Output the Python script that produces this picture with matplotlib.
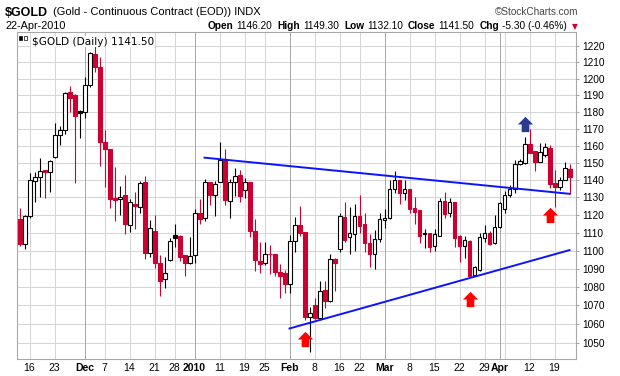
import numpy as np
import matplotlib
matplotlib.use('Agg')
import matplotlib.pyplot as plt
from matplotlib.patches import Rectangle
from matplotlib.path import Path
from matplotlib.ticker import FixedLocator, NullLocator

# ── data: $GOLD daily candles, 12-Nov-2009 .. 22-Apr-2010 ──
opens = [1117.9, 1103.6, 1119.2, 1139.4, 1141.7, 1145.9, 1144.4, 1153.5, 1166.2, 1169.4,
         1191.7, 1190.1, 1180.6, 1179.7, 1196.4, 1215.0, 1207.2, 1162.1, 1158.3, 1129.5,
         1128.9, 1131.4, 1114.1, 1126.5, 1124.8, 1138.6, 1098.8, 1111.0, 1093.3, 1084.1,
         1095.0, 1108.7, 1108.1, 1097.5, 1093.3, 1097.5, 1120.9, 1118.1, 1138.6, 1131.7,
         1139.0, 1151.9, 1128.0, 1138.6, 1142.8, 1134.3, 1138.6, 1111.2, 1094.1, 1093.1,
         1098.4, 1098.0, 1087.9, 1087.7, 1081.8, 1105.5, 1114.3, 1110.6, 1063.8, 1070.2,
         1063.2, 1078.2, 1072.4, 1095.2, 1100.7, 1119.0, 1107.4, 1109.1, 1119.4, 1114.9,
         1104.0, 1097.9, 1106.3, 1117.1, 1118.6, 1134.6, 1140.0, 1132.3, 1134.6, 1124.1,
         1122.8, 1109.1, 1109.7, 1102.7, 1108.3, 1128.0, 1120.9, 1127.2, 1108.2, 1102.5,
         1105.6, 1086.6, 1089.3, 1106.8, 1110.0, 1104.0, 1113.0, 1123.7, 1131.7, 1134.6,
         1149.2, 1150.0, 1161.1, 1157.0, 1150.5, 1154.5, 1158.9, 1138.1, 1136.2, 1140.3,
         1146.2]
highs = [1124.0, 1120.0, 1144.2, 1144.5, 1152.6, 1146.0, 1151.7, 1173.7, 1171.5, 1192.0,
         1195.4, 1190.5, 1181.0, 1201.2, 1216.4, 1222.0, 1213.0, 1169.2, 1158.3, 1147.4,
         1136.7, 1142.8, 1129.0, 1133.0, 1139.4, 1142.2, 1117.1, 1119.9, 1097.5, 1096.2,
         1106.8, 1114.9, 1108.5, 1097.5, 1107.6, 1123.7, 1129.1, 1140.5, 1138.6, 1139.4,
         1162.1, 1158.3, 1140.9, 1147.0, 1145.7, 1141.3, 1138.6, 1117.7, 1104.6, 1104.6,
         1103.1, 1098.2, 1092.4, 1089.5, 1108.7, 1119.0, 1125.2, 1110.6, 1068.8, 1074.1,
         1083.2, 1083.2, 1098.1, 1096.0, 1120.9, 1127.6, 1124.3, 1126.3, 1131.4, 1120.9,
         1109.3, 1111.5, 1120.9, 1123.7, 1140.0, 1145.3, 1140.0, 1140.0, 1134.6, 1130.4,
         1123.0, 1111.9, 1110.0, 1112.0, 1129.5, 1133.3, 1129.5, 1127.2, 1108.5, 1108.2,
         1106.0, 1091.5, 1109.7, 1114.4, 1111.0, 1120.0, 1127.6, 1133.8, 1137.0, 1151.5,
         1152.0, 1165.1, 1169.6, 1157.0, 1161.5, 1161.5, 1160.2, 1145.7, 1141.5, 1150.5,
         1149.3]
lows = [1102.7, 1101.0, 1118.5, 1127.6, 1130.4, 1129.9, 1133.0, 1153.0, 1160.5, 1166.8,
        1180.0, 1138.4, 1164.4, 1176.5, 1195.0, 1204.3, 1148.3, 1136.2, 1124.0, 1116.7,
        1120.0, 1109.5, 1110.4, 1111.9, 1121.4, 1095.6, 1096.5, 1090.5, 1075.1, 1079.6,
        1094.0, 1101.8, 1094.5, 1086.1, 1092.8, 1093.3, 1115.2, 1116.7, 1125.7, 1119.6,
        1139.0, 1125.7, 1118.4, 1130.8, 1127.2, 1129.5, 1107.4, 1088.7, 1087.4, 1092.3,
        1086.8, 1086.1, 1074.0, 1076.4, 1076.8, 1099.0, 1108.0, 1062.1, 1044.8, 1062.5,
        1062.3, 1068.7, 1072.0, 1077.6, 1099.0, 1105.0, 1098.4, 1099.9, 1109.7, 1099.4,
        1090.7, 1089.6, 1105.0, 1112.4, 1117.5, 1132.3, 1126.3, 1128.5, 1121.3, 1115.2,
        1104.0, 1101.2, 1099.0, 1100.0, 1108.0, 1118.6, 1119.0, 1101.8, 1093.5, 1096.0,
        1085.6, 1085.9, 1088.5, 1105.0, 1103.0, 1103.5, 1112.5, 1121.3, 1130.4, 1132.7,
        1148.5, 1149.5, 1155.5, 1145.4, 1150.3, 1153.5, 1135.6, 1124.4, 1134.3, 1140.0,
        1132.1]
closes = [1103.6, 1119.4, 1139.8, 1142.0, 1145.5, 1144.4, 1150.9, 1166.2, 1169.0, 1191.4,
          1188.2, 1177.6, 1179.5, 1196.4, 1215.5, 1207.2, 1162.1, 1158.3, 1129.3, 1128.3,
          1130.0, 1115.2, 1127.2, 1125.2, 1138.1, 1098.8, 1112.5, 1093.3, 1083.4, 1087.4,
          1105.3, 1106.8, 1096.5, 1093.3, 1096.9, 1120.9, 1117.7, 1138.6, 1131.7, 1137.5,
          1151.9, 1128.5, 1138.6, 1142.4, 1131.0, 1138.6, 1111.2, 1094.7, 1092.5, 1098.4,
          1098.0, 1087.9, 1086.1, 1081.8, 1105.5, 1114.3, 1109.6, 1063.8, 1065.7, 1063.2,
          1077.6, 1072.4, 1095.6, 1093.1, 1119.4, 1105.9, 1109.7, 1119.4, 1114.0, 1104.0,
          1097.9, 1106.3, 1117.5, 1118.6, 1134.6, 1140.3, 1132.3, 1134.6, 1123.4, 1121.5,
          1108.3, 1109.7, 1102.1, 1109.1, 1128.0, 1120.5, 1127.2, 1106.8, 1102.5, 1105.8,
          1086.2, 1090.8, 1107.4, 1110.0, 1103.6, 1113.3, 1126.7, 1131.7, 1134.6, 1149.6,
          1150.9, 1161.1, 1156.0, 1150.5, 1156.4, 1159.2, 1137.5, 1135.8, 1140.3, 1146.8,
          1141.5]

# x-axis: candle index of each labelled week / month line
tick_idx = [2, 7, 13, 17, 22, 27, 31, 35, 40, 45, 49, 54, 59, 64, 68, 73, 78, 83, 88, 93, 96, 102, 107]
tick_lab = ['16', '23', 'Dec', '7', '14', '21', '28', '2010', '11', '19', '25', 'Feb',
            '8', '16', '22', 'Mar', '8', '15', '22', '29', 'Apr', '12', '19']
month_lab = {'Dec', '2010', 'Feb', 'Mar', 'Apr'}
extra_week_idx = [97]
price_ticks = list(range(1050, 1230, 10))

# trendlines and annotation arrows (candle index, price)
upper_x, upper_y = [37, 110], [1153.0, 1132.1]
lower_x, lower_y = [54, 110], [1057.5, 1100.3]
red_arrow_x, red_arrow_y = [57, 90, 106], [1052.0, 1073.5, 1120.0]
blue_arrow_x, blue_arrow_y = [101], [1172.6]

# ── figure ────────────────────────────────────────────────────────────────────
W, H = 620, 376
RED = '#cc0033'
fig = plt.figure(figsize=(W / 100, H / 100), dpi=100)
ax = fig.add_axes([16.5 / W, 1 - 359 / H, 559 / W, 327.3 / H])
ax.set_yscale('log')
ax.set_xlim(-0.6, 111.2)
ax.set_ylim(1041.3, 1228.9)

for p in price_ticks:
    ax.axhline(p, color='#d6d6d6', lw=0.75, zorder=0)
for i, lab in zip(tick_idx, tick_lab):
    ax.axvline(i, color='#ababab' if lab in month_lab else '#d6d6d6', lw=0.75, zorder=0)
for i in extra_week_idx:
    ax.axvline(i, color='#d6d6d6', lw=0.75, zorder=0)

# candles
n = len(closes)
for i in range(n):
    o, h, l, c = opens[i], highs[i], lows[i], closes[i]
    col = RED if (i == 0 or c < closes[i - 1]) else 'black'
    ax.vlines(i, l, h, color=col, lw=0.8, zorder=2)
    lo, hi = min(o, c), max(o, c)
    if hi - lo < 0.3:
        hi = lo + 0.3
    face = col if c < o else 'white'
    ax.add_patch(Rectangle((i - 0.4, lo), 0.8, hi - lo, facecolor=face,
                           edgecolor=col, lw=0.8, zorder=3))

ax.plot(upper_x, upper_y, color='#0a14ff', lw=1.4, zorder=4)
ax.plot(lower_x, lower_y, color='#0a14ff', lw=1.4, zorder=4)

# up-arrow marker
arrow = Path([(-1, 0), (0, 1), (1, 0), (0.5, 0), (0.5, -1), (-0.5, -1), (-0.5, 0), (-1, 0)],
             [Path.MOVETO] + [Path.LINETO] * 6 + [Path.CLOSEPOLY])
ax.plot(red_arrow_x, red_arrow_y, ls='none', marker=arrow, markersize=11,
        color='#ff0000', mec='none', zorder=5)
ax.plot(blue_arrow_x, blue_arrow_y, ls='none', marker=arrow, markersize=11,
        color='#2b3990', mec='none', zorder=5)

# axes styling
for s in ax.spines.values():
    s.set_color('#a8a8a8')
    s.set_linewidth(0.8)
ax.spines['right'].set_linestyle((0, (1, 1)))
ax.yaxis.tick_right()
ax.yaxis.set_major_locator(FixedLocator(price_ticks))
ax.yaxis.set_minor_locator(NullLocator())
ax.set_yticklabels([str(p) for p in price_ticks], fontsize=7.3, family='Liberation Sans')
ax.tick_params(axis='y', length=2, pad=3, color='#a8a8a8')
ax.set_xticks(tick_idx)
ax.set_xticklabels(tick_lab, fontsize=7.5, family='Liberation Sans')
for t in ax.get_xticklabels():
    if t.get_text() in month_lab:
        t.set_fontweight('bold')
ax.tick_params(axis='x', length=0, pad=3)

ax.text(0.027, 0.985, '$GOLD (Daily) 1141.50', transform=ax.transAxes, fontsize=7.6,
        family='DejaVu Sans', va='top', ha='left',
        bbox=dict(facecolor='white', edgecolor='none', pad=0.5), zorder=6)
# small candle icon of the legend
fig.lines.append(plt.Line2D([20.5 / W, 20.5 / W], [1 - 41 / H, 1 - 34 / H], color='black', lw=0.7))
fig.patches.append(Rectangle((19.5 / W, 1 - 39.5 / H), 2.5 / W, 4 / H, transform=fig.transFigure,
                             facecolor='black', edgecolor='black', lw=0.5))
fig.lines.append(plt.Line2D([25.5 / W, 25.5 / W], [1 - 41 / H, 1 - 34 / H], color='black', lw=0.7))
fig.patches.append(Rectangle((24.2 / W, 1 - 40 / H), 2.5 / W, 4 / H, transform=fig.transFigure,
                             facecolor='white', edgecolor='black', lw=0.5))

# ── header ────────────────────────────────────────────────────────────────────
r = fig.canvas.get_renderer()

def ftext(x, y, s, **kw):
    return fig.text(x / W, 1 - y / H, s, va='baseline', **kw)

def fit_text(x, y, s, width, size, **kw):
    # shrink / grow the font so the string spans `width` pixels
    t = ftext(x, y, s, fontsize=size, **kw)
    t.set_fontsize(size * width / t.get_window_extent(renderer=r).width)
    return t

fit_text(5, 16, '$GOLD', 43, 11, fontweight='bold', family='Liberation Sans')
fit_text(53, 15, '(Gold - Continuous Contract (EOD)) INDX', 209, 8, family='Liberation Sans')
ftext(578, 15, '\u00a9StockCharts.com', fontsize=7.2, family='Liberation Sans', ha='right', color='#444444')
fit_text(5, 29, '22-Apr-2010', 61, 8, family='Liberation Sans')

parts = [('Open', True), ('1146.20', False), ('High', True), ('1149.30', False),
         ('Low', True), ('1132.10', False), ('Close', True), ('1141.50', False),
         ('Chg', True), ('-5.30 (-0.46%)', False)]

def layout(size):
    x = 208
    made = []
    for s, bold in parts:
        t = ftext(x, 29, s, fontsize=size, fontweight='bold' if bold else 'normal',
                  family='Liberation Sans')
        made.append(t)
        x += t.get_window_extent(renderer=r).width + (3 if bold else 5)
    return x, made

end, made = layout(7.8)
for t in made:
    t.remove()
size = 7.8 * (565 - 208) / (end - 5 - 208)
end, made = layout(size)
ftext(end, 29, '\u25bc', fontsize=5.5, color=RED, family='DejaVu Sans')

fig.savefig('out.png', dpi=100)
